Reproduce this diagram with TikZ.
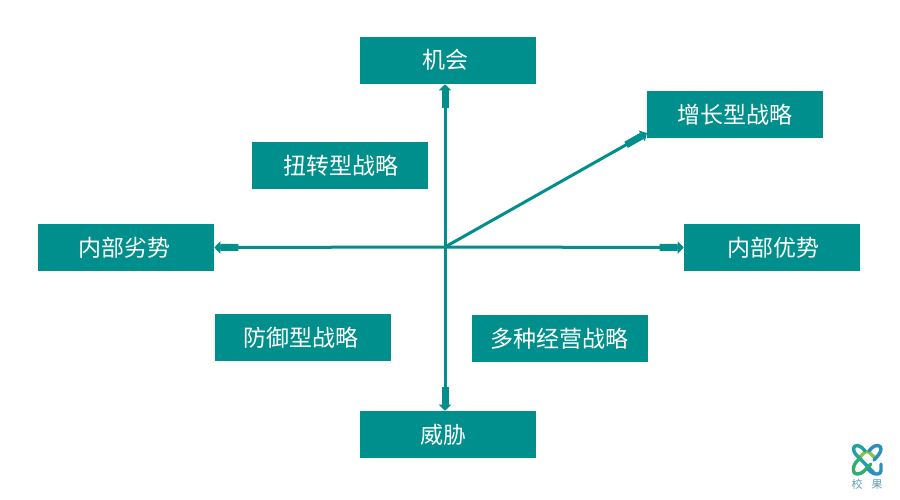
\documentclass[tikz,border=0pt]{standalone}
\usepackage{fontspec}
\setmainfont{Noto Sans CJK SC}
\usetikzlibrary{arrows.meta}
\definecolor{teal1}{HTML}{008F8C}
\definecolor{logob}{HTML}{2E8FBF}
\definecolor{logoc}{HTML}{1FA3A0}
\definecolor{logog}{HTML}{2FAE6E}
\definecolor{logol}{HTML}{8CC63F}
\definecolor{logot}{HTML}{5F9FB0}
\tikzset{
  x=0.75pt,y=-0.75pt,
  box/.style={fill=teal1,text=white,minimum width=132pt,minimum height=35.25pt,inner sep=0pt,font=\fontsize{17.25pt}{20pt}\selectfont},
  conn/.style={draw=teal1,line width=2.25pt,-{Rectangle[length=13.5pt,width=5.25pt]Triangle[length=4.5pt,width=9pt]},shorten >=0pt},
  logoline/.style={line width=2.6pt,line cap=round,line join=round,rounded corners=2.5pt},
  logotext/.style={inner sep=0pt,text=logot,font=\fontsize{8.25pt}{10pt}\selectfont},
}
\begin{document}
\begin{tikzpicture}
\useasboundingbox (0,0) rectangle (900,500);
\fill[white] (0,0) rectangle (900,500);
\node[box] (top) at (448,60.5) {\hspace*{-4.5pt}\raisebox{1.75pt}{机会}};
\node[box] (grow) at (735,114.5) {增长型战略};
\node[box] (turn) at (340,165.5) {\hspace*{0.75pt}扭转型战略};
\node[box] (weak) at (126,247.5) {\hspace*{-2.25pt}内部劣势};
\node[box] (strong) at (772,247.5) {\hspace*{1.5pt}内部优势};
\node[box] (def) at (303,337.5) {\hspace*{-3pt}防御型战略};
\node[box] (multi) at (560,338.5) {\hspace*{-1.5pt}多种经营战略};
\node[box] (threat) at (448,434.5) {\hspace*{-6.75pt}\raisebox{-1.2pt}{威胁}};
\coordinate (o) at (445,247);
\draw[conn] (o) -- (top.south -| o);
\draw[conn] (o) -- (threat.north -| o);
\draw[conn] (o) -- (weak.east);
\draw[conn] (o) -- (strong.west);
\coordinate (ne) at (647,133);
\draw[conn] (o) -- (ne);
% logo
\draw[logoline,logol] (860,457) -- (867,450) -- (875,458);
\draw[logoline,logoc] (865,451) -- (860,445.5) -- (853.5,445.5) -- (853.5,452) -- (875,474);
\draw[logoline,logob] (869,451) -- (874,445.5) -- (881,445.5) -- (881,452) -- (874,460);
\draw[logoline,logog] (860,458) -- (853.5,465) -- (853.5,474) -- (861,474) -- (871,464);
\draw[logoline,logob] (881,464) -- (881,474) -- (873,474) -- (868,469);
\node[logotext] (l1) at (857,484.5) {校};
\node[logotext] (l2) at (877,484.5) {果};
\end{tikzpicture}
\end{document}
